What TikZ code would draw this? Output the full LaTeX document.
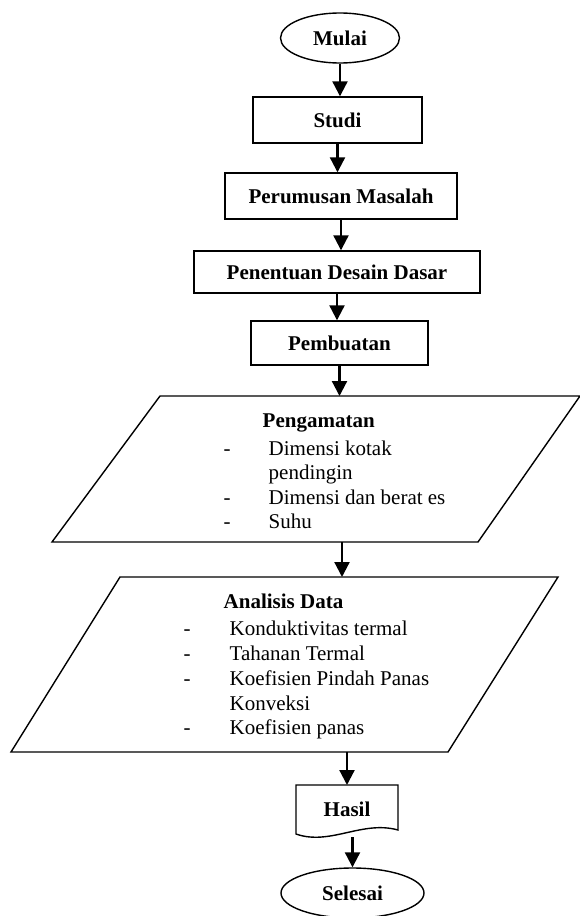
\documentclass[tikz,border=0pt]{standalone}
\usepackage{fontspec}
\setmainfont{Liberation Serif}
\usetikzlibrary{shapes.geometric,arrows.meta}
\begin{document}
\begin{tikzpicture}[x=1pt,y=-1pt,
  line width=1.4pt,
  bfont/.style={font=\fontsize{21}{24}\selectfont\bfseries},
  box/.style={draw,rectangle,inner sep=0,bfont},
  term/.style={draw,ellipse,inner sep=0,bfont},
  arr/.style={-{Triangle[width=15pt,length=15pt]},line width=2.2pt},
  txt/.style={font=\fontsize{21}{24}\selectfont,anchor=base west,inner sep=0},
  ttl/.style={font=\fontsize{21}{24}\selectfont\bfseries,anchor=base west,inner sep=0}]
\useasboundingbox (0,0) rectangle (580,916);

% terminals and process boxes
\node[term,minimum width=119pt,minimum height=50pt] (mulai) at (340,38) {Mulai};
\node[box,minimum width=169pt,minimum height=46pt] (studi) at (337.5,120) {Studi};
\node[box,minimum width=232pt,minimum height=46pt] (perumusan) at (341,196) {Perumusan Masalah};
\node[box,minimum width=286pt,minimum height=42pt] (penentuan) at (337,272) {Penentuan Desain Dasar};
\node[box,minimum width=177pt,minimum height=44pt] (pembuatan) at (339.5,343) {Pembuatan};

% Pengamatan parallelogram
\coordinate (pgTL) at (160,396);
\coordinate (pgTR) at (580,396);
\coordinate (pgBR) at (478,542);
\coordinate (pgBL) at (52,542);
\draw (pgTL) -- (pgTR) -- (pgBR) -- (pgBL) -- cycle;
\node[ttl] (pgT) at (262,427) {Pengamatan};
\node[txt] (pg1d) at (223,455) {-};
\node[txt] (pg1) at (268,455) {Dimensi kotak};
\node[txt] (pg1b) at (268,479.5) {pendingin};
\node[txt] (pg2d) at (223,504) {-};
\node[txt] (pg2) at (268,504) {Dimensi dan berat es};
\node[txt] (pg3d) at (223,528.5) {-};
\node[txt] (pg3) at (268,528.5) {Suhu};

% Analisis Data parallelogram
\coordinate (anTL) at (120,577);
\coordinate (anTR) at (558,577);
\coordinate (anBR) at (448,752);
\coordinate (anBL) at (11,752);
\draw (anTL) -- (anTR) -- (anBR) -- (anBL) -- cycle;
\node[ttl] (anT) at (223,608) {Analisis Data};
\node[txt] (an1d) at (183,635) {-};
\node[txt] (an1) at (229,635) {Konduktivitas termal};
\node[txt] (an2d) at (183,660) {-};
\node[txt] (an2) at (229,660) {Tahanan Termal};
\node[txt] (an3d) at (183,685) {-};
\node[txt] (an3) at (229,685) {Koefisien Pindah Panas};
\node[txt] (an3b) at (229,710) {Konveksi};
\node[txt] (an4d) at (183,734) {-};
\node[txt] (an4) at (229,734) {Koefisien panas};

% Hasil document
\coordinate (hsTL) at (296,785);
\coordinate (hsTR) at (398,785);
\draw (hsTL) -- (hsTR) -- (398,830) .. controls (362,820) and (330,846) .. (296,834) -- cycle;
\node[ttl,anchor=base] (hasil) at (347,816) {Hasil};

\node[term,minimum width=143pt,minimum height=50pt] (selesai) at (352.5,893) {Selesai};

% connectors
\coordinate (pgIn) at (339.5,396);
\coordinate (pgOut) at (342,542);
\coordinate (anIn) at (342,577);
\coordinate (anOut) at (347,752);
\coordinate (hsIn) at (347,785);
\coordinate (hsOut) at (352.5,837);
\draw[arr] (mulai.south) -- (studi.north -| mulai.south);
\draw[arr] (studi.south) -- (perumusan.north -| studi.south);
\draw[arr] (perumusan.south) -- (penentuan.north -| perumusan.south);
\draw[arr] (penentuan.south) -- (pembuatan.north -| penentuan.south);
\draw[arr] (pembuatan.south) -- (pgIn);
\draw[arr] (pgOut) -- (anIn);
\draw[arr] (anOut) -- (hsIn);
\draw[arr] (hsOut) -- (selesai.north);
\end{tikzpicture}
\end{document}
